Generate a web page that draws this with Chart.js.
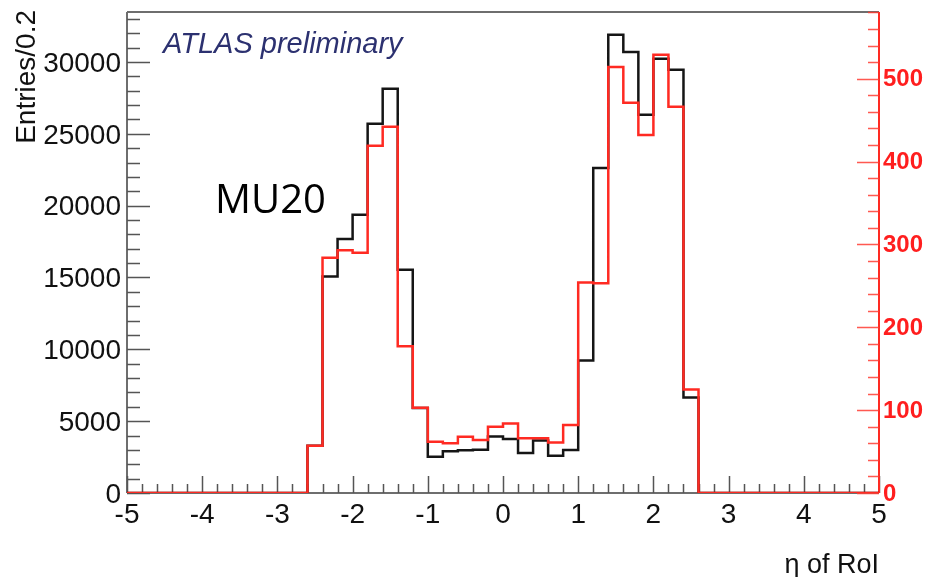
<!DOCTYPE html>
<html>
<head>
<meta charset="utf-8">
<title>MU20 eta of RoI</title>
<script src="https://cdn.jsdelivr.net/npm/chart.js@4.4.1/dist/chart.umd.min.js"></script>
<style>
  html, body { margin: 0; padding: 0; background: #ffffff; }
  canvas { display: block; }
</style>
</head>
<body>
<canvas id="hist" width="926" height="577"></canvas>
<script>
// Low edges of the 0.2-wide eta bins, plus the upper edge of the last bin
const binEdges = [
  -5.0, -4.8, -4.6, -4.4, -4.2, -4.0, -3.8, -3.6, -3.4, -3.2,
  -3.0, -2.8, -2.6, -2.4, -2.2, -2.0, -1.8, -1.6, -1.4, -1.2,
  -1.0, -0.8, -0.6, -0.4, -0.2, 0.0, 0.2, 0.4, 0.6, 0.8,
  1.0, 1.2, 1.4, 1.6, 1.8, 2.0, 2.2, 2.4, 2.6, 2.8,
  3.0, 3.2, 3.4, 3.6, 3.8, 4.0, 4.2, 4.4, 4.6, 4.8,
  5.0
];

// Entries per bin, left axis (black histogram)
const entriesLeft = [
  0, 0, 0, 0, 0, 0, 0, 0, 0, 0, 0, 0,
  3290, 15070, 17680, 19370, 25700, 28140, 15540, 5920, 2530, 2900,
  2970, 3010, 3940, 3760, 2780, 3660, 2600, 2990, 9230, 22620,
  31890, 30690, 26330, 30220, 29460, 6650,
  0, 0, 0, 0, 0, 0, 0, 0, 0, 0, 0, 0
];

// Entries per bin, right axis (red histogram)
const entriesRight = [
  0, 0, 0, 0, 0, 0, 0, 0, 0, 0, 0, 0,
  57, 284, 293, 290, 419, 442, 177, 103, 62, 60,
  68, 64, 80, 84, 66, 66, 61, 82, 254, 253,
  514, 471, 432, 529, 466, 125,
  0, 0, 0, 0, 0, 0, 0, 0, 0, 0, 0, 0
];

// Axis ticks and labels
const xTicks = [-5, -4, -3, -2, -1, 0, 1, 2, 3, 4, 5];
const xTickLabels = ['-5', '-4', '-3', '-2', '-1', '0', '1', '2', '3', '4', '5'];
const leftTicks = [0, 5000, 10000, 15000, 20000, 25000, 30000];
const leftTickLabels = ['0', '5000', '10000', '15000', '20000', '25000', '30000'];
const rightTicks = [0, 100, 200, 300, 400, 500];
const rightTickLabels = ['0', '100', '200', '300', '400', '500'];

const xTitle = 'η of RoI';
const yTitle = 'Entries/0.2';
const experimentLabel = 'ATLAS preliminary';
const triggerLabel = 'MU20';

// Step outline points: value of a bin starts at its low edge, last point closes at x = 5
function stepPoints(values) {
  const pts = values.map((v, i) => ({ x: binEdges[i], y: v }));
  pts.push({ x: binEdges[binEdges.length - 1], y: values[values.length - 1] });
  return pts;
}

const RED = '#ff2a22';
const AXIS_GREY = '#6e6e6e';
const LABEL_FONT = '"Liberation Sans", Arial, Helvetica, sans-serif';

const framePlugin = {
  id: 'rootFrame',
  beforeDatasetsDraw(chart) {
    const { ctx, chartArea: a, scales } = chart;
    const xs = scales.x, yl = scales.y, yr = scales.y2;
    ctx.save();
    ctx.lineCap = 'butt';

    // frame: top, left, bottom
    ctx.strokeStyle = AXIS_GREY;
    ctx.lineWidth = 2;
    ctx.beginPath();
    ctx.moveTo(a.left, a.top); ctx.lineTo(a.right, a.top);
    ctx.moveTo(a.left, a.top); ctx.lineTo(a.left, a.bottom);
    ctx.moveTo(a.left, a.bottom); ctx.lineTo(a.right, a.bottom);
    ctx.stroke();

    // left axis ticks (inward)
    ctx.strokeStyle = '#555555';
    ctx.lineWidth = 1.5;
    ctx.beginPath();
    for (let v = 0; v <= yl.max; v += 1000) {
      const py = Math.round(yl.getPixelForValue(v)) + 0.5;
      const len = (v % 5000 === 0) ? 23 : 13;
      ctx.moveTo(a.left, py); ctx.lineTo(a.left + len, py);
    }
    // bottom axis ticks (inward)
    for (let k = 0; k <= 50; k++) {
      const v = -5 + k * 0.2;
      const px = Math.round(xs.getPixelForValue(v)) + 0.5;
      const len = (k % 5 === 0) ? 17 : 9;
      ctx.moveTo(px, a.bottom); ctx.lineTo(px, a.bottom - len);
    }
    ctx.stroke();

    // right axis in red
    ctx.strokeStyle = RED;
    ctx.lineWidth = 2;
    ctx.beginPath();
    ctx.moveTo(a.right, a.top); ctx.lineTo(a.right, a.bottom);
    ctx.stroke();
    ctx.lineWidth = 1.5;
    ctx.strokeStyle = 'rgba(255,60,50,0.85)';
    ctx.beginPath();
    for (let v = 0; v <= yr.max; v += 20) {
      const py = Math.round(yr.getPixelForValue(v)) + 0.5;
      const len = (v % 100 === 0) ? 22 : 11;
      ctx.moveTo(a.right, py); ctx.lineTo(a.right - len, py);
    }
    ctx.stroke();
    ctx.restore();
  },
  afterDraw(chart) {
    const { ctx, chartArea: a, scales } = chart;
    const xs = scales.x, yl = scales.y, yr = scales.y2;
    ctx.save();

    // left tick labels
    ctx.fillStyle = '#111111';
    ctx.font = '28px ' + LABEL_FONT;
    ctx.textAlign = 'right';
    ctx.textBaseline = 'middle';
    leftTicks.forEach((v, i) => {
      ctx.fillText(leftTickLabels[i], 121, yl.getPixelForValue(v) + 2);
    });

    // bottom tick labels
    ctx.textAlign = 'center';
    ctx.textBaseline = 'alphabetic';
    xTicks.forEach((v, i) => {
      ctx.fillText(xTickLabels[i], xs.getPixelForValue(v), 523);
    });

    // right tick labels
    ctx.fillStyle = '#ff1e1e';
    ctx.font = 'bold 24px ' + LABEL_FONT;
    ctx.textAlign = 'left';
    ctx.textBaseline = 'middle';
    rightTicks.forEach((v, i) => {
      ctx.fillText(rightTickLabels[i], a.right + 4, yr.getPixelForValue(v) + 1);
    });

    // axis titles
    ctx.fillStyle = '#111111';
    ctx.font = '27px ' + LABEL_FONT;
    ctx.textAlign = 'right';
    ctx.textBaseline = 'alphabetic';
    ctx.fillText(xTitle, a.right, 573);

    ctx.save();
    ctx.translate(35, 10);
    ctx.rotate(-Math.PI / 2);
    ctx.font = '28px ' + LABEL_FONT;
    ctx.textAlign = 'right';
    ctx.fillText(yTitle, 0, 0);
    ctx.restore();

    // experiment label
    ctx.fillStyle = '#2c3170';
    ctx.font = 'italic 29px ' + LABEL_FONT;
    ctx.textAlign = 'left';
    ctx.fillText(experimentLabel, 163, 53);

    // trigger label
    ctx.fillStyle = '#000000';
    ctx.font = '40px "Open Sans", "Noto Sans", sans-serif';
    ctx.fillText(triggerLabel, 215, 213);

    ctx.restore();
  }
};

new Chart(document.getElementById('hist'), {
  type: 'line',
  data: {
    datasets: [
      {
        label: 'right axis',
        data: stepPoints(entriesRight),
        yAxisID: 'y2',
        borderColor: RED,
        borderWidth: 2.5,
        stepped: true,
        pointRadius: 0,
        fill: false,
        order: 0
      },
      {
        label: 'left axis',
        data: stepPoints(entriesLeft),
        yAxisID: 'y',
        borderColor: '#151515',
        borderWidth: 2.5,
        stepped: true,
        pointRadius: 0,
        fill: false,
        order: 1
      }
    ]
  },
  options: {
    responsive: false,
    animation: false,
    devicePixelRatio: 1,
    layout: { padding: { left: 127, top: 12, right: 47, bottom: 84 } },
    plugins: { legend: { display: false }, tooltip: { enabled: false } },
    scales: {
      x: { type: 'linear', min: -5, max: 5, display: false },
      y: { type: 'linear', position: 'left', min: 0, max: 33480, display: false },
      y2: { type: 'linear', position: 'right', min: 0, max: 580.5, display: false }
    }
  },
  plugins: [framePlugin]
});
</script>
</body>
</html>
